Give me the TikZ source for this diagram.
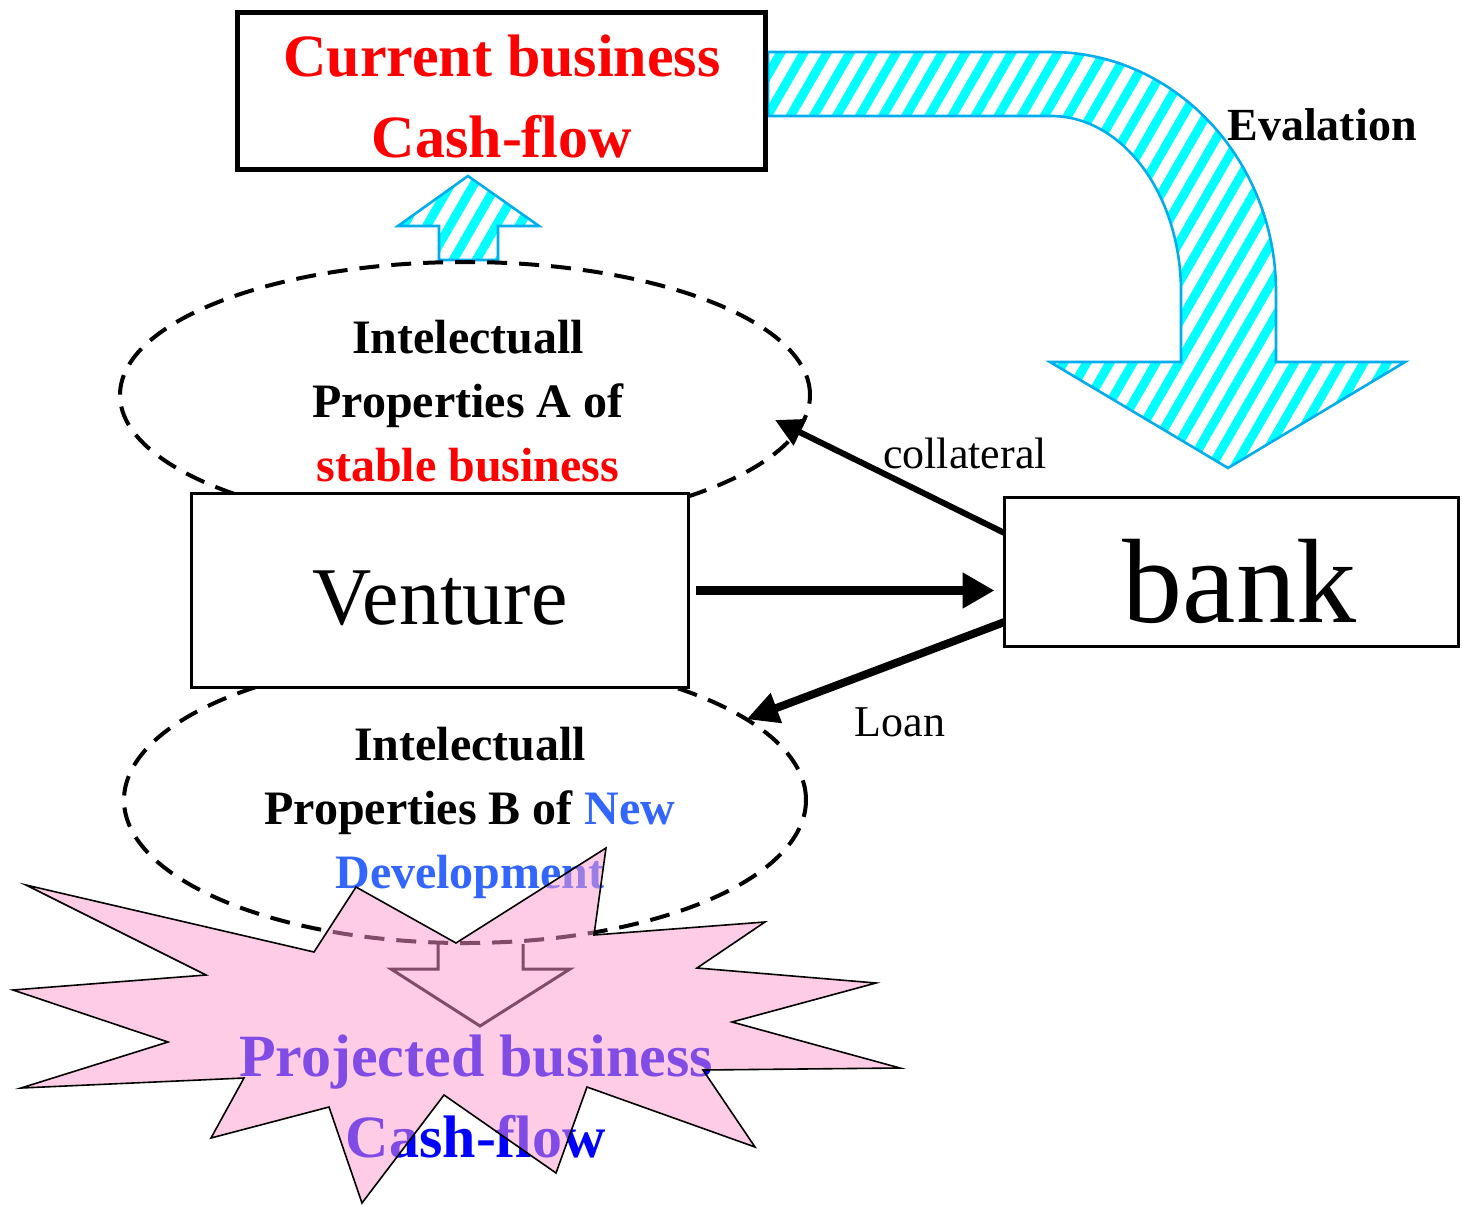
\documentclass[tikz,border=0pt]{standalone}
\usepackage{fontspec}
\setmainfont{Liberation Serif}
\usetikzlibrary{arrows.meta,patterns.meta,shapes.geometric}

\definecolor{newblue}{RGB}{51,102,255}
\definecolor{burstpink}{RGB}{255,153,204}

\begin{document}
\begin{tikzpicture}[x=0.5pt,y=-0.5pt,
    flow box/.style={rectangle,draw,fill=white,inner sep=0pt,outer sep=0pt},
    ip ellipse/.style={ellipse,draw,line width=2pt,dash pattern=on 10pt off 6pt,inner sep=0pt,outer sep=0pt},
    ip text/.style={align=center,font=\fontsize{24}{32}\selectfont\bfseries},
    cash text/.style={align=center,font=\fontsize{30}{40.5}\selectfont\bfseries},
    hatch arrow/.style={draw=cyan,line width=1.3pt,pattern={Lines[angle=60,distance=10pt,line width=4.5pt]},pattern color=cyan},
    small label/.style={font=\fontsize{22}{26}\selectfont}]
    \useasboundingbox (0,0) rectangle (1462,1205);

    % hatched arrows
    \draw[hatch arrow] (439,260) -- (439,226) -- (398,226) -- (468,176) -- (539,226) -- (498,226) -- (498,260) -- cycle;
    \draw[hatch arrow] (768,52) -- (1051,52) .. controls (1175,52) and (1276,160) .. (1276,292)
        -- (1276,362) -- (1405,362) -- (1228,468) -- (1050,362) -- (1181,362) -- (1181,292)
        .. controls (1181,195) and (1123,116) .. (1051,116) -- (768,116) -- cycle;

    \node[flow box,line width=2.5pt,minimum width=264pt,minimum height=78.5pt] (cash) at (501.5,91) {};
    \node[cash text,text=red] (cashtext) at (502,96) {Current business\\Cash-flow};
    \node[font=\fontsize{23}{28}\selectfont\bfseries] (eval) at (1322,125) {Evalation};

    % intellectual properties
    \node[ip ellipse,minimum width=345pt,minimum height=133pt] (ipa) at (465,395) {};
    \node[ip text] (ipatext) at (468,401) {Intelectuall\\Properties A of\\\textcolor{red}{stable business}};
    \node[ip ellipse,minimum width=341pt,minimum height=143pt] (ipb) at (465,800) {};
    \node[ip text] (ipbtext) at (470,813) {Intelectuall\\Properties B of \textcolor{newblue}{New}\\\textcolor{newblue}{Development}};

    \node[flow box,line width=1.5pt,minimum width=248.5pt,minimum height=97pt,font=\fontsize{41}{48}\selectfont,text height=35pt] (venture) at (440,590.5) {Venture};
    \node[flow box,line width=1.5pt,minimum width=227pt,minimum height=74.5pt,font=\fontsize{60}{70}\selectfont,text height=51pt] (bank) at (1231.5,572) {\hspace{8pt}bank};

    \coordinate (colltip) at (775,420);
    \draw[line width=4.5pt,-{Triangle[length=16pt,width=17pt]},shorten <=3.5pt,shorten >=5pt] (venture.east) -- (venture.east -| bank.west);
    \draw[line width=3pt,-{Triangle[length=14pt,width=14pt]}] ([yshift=19.5pt]bank.west) -- (colltip);
    \draw[line width=4pt,-{Triangle[length=16pt,width=15pt]}] ([yshift=-25pt]bank.west) -- (ipb.16);
    \node[small label] (coll) at (965,453) {collateral};
    \node[small label] (loan) at (900,722) {Loan};

    % projected cash-flow
    \draw[line width=1.5pt] (438,944) -- (438,969) -- (391,969) -- (480,1026) -- (570,969) -- (523,969) -- (523,944);
    \node[cash text,text=blue] (proj) at (476,1096) {Projected business\\Cash-flow};
    \draw[line width=0.8pt,fill=burstpink,fill opacity=0.5] (26,885) -- (206,975) -- (13,990) -- (168,1042)
        -- (21,1088) -- (244,1078) -- (211,1138) -- (329,1107) -- (362,1203) -- (444,1095)
        -- (556,1173) -- (587,1087) -- (755,1147) -- (703,1070) -- (900,1068) -- (732,1022)
        -- (876,983) -- (697,968) -- (765,922) -- (594,935) -- (606,848) -- (456,943)
        -- (356,887) -- (314,952) -- cycle;
\end{tikzpicture}
\end{document}
